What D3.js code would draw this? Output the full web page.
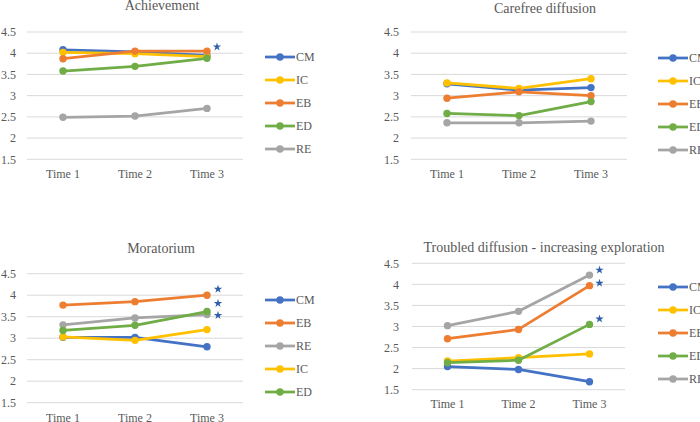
<!DOCTYPE html>
<html>
<head>
<meta charset="utf-8">
<script src="https://cdn.jsdelivr.net/npm/d3@7"></script>
<style>
  html, body { margin: 0; padding: 0; background: #fff; }
  svg { display: block; }
  svg text { font-family: 'Liberation Serif', 'DejaVu Serif', serif; }
</style>
</head>
<body>
<div id="chart"></div>
<script>
// category + tick labels
const times = ['Time 1', 'Time 2', 'Time 3'];
const yTicks = [1.5, 2, 2.5, 3, 3.5, 4, 4.5];

const colors = { CM: '#4472C4', IC: '#FFC000', EB: '#ED7D31', ED: '#70AD47', RE: '#A5A5A5' };

// Achievement
const achievementSeries = ['CM', 'IC', 'EB', 'ED', 'RE'];
const achievementValues = [
  [4.08, 4.03, 3.95],
  [4.02, 3.99, 3.92],
  [3.87, 4.05, 4.05],
  [3.58, 3.69, 3.88],
  [2.49, 2.52, 2.70]
];
const achievementStars = [4.15];

// Carefree diffusion
const carefreeSeries = ['CM', 'IC', 'EB', 'ED', 'RE'];
const carefreeValues = [
  [3.28, 3.13, 3.19],
  [3.30, 3.17, 3.40],
  [2.94, 3.09, 3.00],
  [2.58, 2.53, 2.86],
  [2.36, 2.36, 2.40]
];
const carefreeStars = [];

// Moratorium
const moratoriumSeries = ['CM', 'EB', 'RE', 'IC', 'ED'];
const moratoriumValues = [
  [3.02, 3.02, 2.80],
  [3.77, 3.85, 4.00],
  [3.31, 3.47, 3.55],
  [3.03, 2.95, 3.20],
  [3.18, 3.30, 3.62]
];
const moratoriumStars = [4.14, 3.81, 3.53];

// Troubled diffusion - increasing exploration
const troubledSeries = ['CM', 'IC', 'EB', 'ED', 'RE'];
const troubledValues = [
  [2.05, 1.98, 1.69],
  [2.18, 2.26, 2.35],
  [2.71, 2.93, 3.97],
  [2.14, 2.20, 3.05],
  [3.02, 3.36, 4.22]
];
const troubledStars = [4.34, 4.03, 3.18];

// layout per panel (pixel boxes)
const panels = [
  { title: 'Achievement', series: achievementSeries, values: achievementValues, stars: achievementStars,
    x0: 27, x1: 243, yTop: 32, yBot: 159.3, titleX: 162, titleY: 10, timeY: 178, tickX: 16,
    legX: 265, legY: 57, starDx: 10 },
  { title: 'Carefree diffusion', series: carefreeSeries, values: carefreeValues, stars: carefreeStars,
    x0: 411, x1: 627, yTop: 32, yBot: 159.3, titleX: 545, titleY: 12.7, timeY: 178, tickX: 399,
    legX: 658, legY: 58, starDx: 10 },
  { title: 'Moratorium', series: moratoriumSeries, values: moratoriumValues, stars: moratoriumStars,
    x0: 27, x1: 243, yTop: 273.7, yBot: 402.7, titleX: 161, titleY: 252.5, timeY: 421.5, tickX: 16,
    legX: 265, legY: 300, starDx: 11 },
  { title: 'Troubled diffusion - increasing exploration', series: troubledSeries, values: troubledValues, stars: troubledStars,
    x0: 412, x1: 625, yTop: 263.3, yBot: 389.7, titleX: 544, titleY: 251.5, timeY: 408, tickX: 399,
    legX: 658, legY: 287, starDx: 10 }
];

const W = 700, H = 422;
const textColor = '#595959';
const FONT = "'Liberation Serif', 'DejaVu Serif', serif";

const svg = d3.select('#chart').append('svg')
  .attr('width', W)
  .attr('height', H)
  .attr('font-family', FONT);

panels.forEach(p => {
  const g = svg.append('g');

  const x = d3.scalePoint().domain(times).range([p.x0, p.x1]).padding(0.5);
  const y = d3.scaleLinear().domain([1.5, 4.5]).range([p.yBot, p.yTop]);

  // gridlines
  g.selectAll('line.grid')
    .data(yTicks)
    .enter().append('line')
    .attr('class', 'grid')
    .attr('x1', p.x0).attr('x2', p.x1)
    .attr('y1', d => y(d)).attr('y2', d => y(d))
    .attr('stroke', '#D9D9D9')
    .attr('stroke-width', 1);

  // y tick labels
  g.selectAll('text.ytick')
    .data(yTicks)
    .enter().append('text')
    .attr('class', 'ytick')
    .attr('x', p.tickX)
    .attr('y', d => y(d))
    .attr('dy', '0.35em')
    .attr('text-anchor', 'end')
    .attr('font-family', FONT)
    .attr('font-size', 12)
    .attr('fill', textColor)
    .text(d => d);

  // x labels
  g.selectAll('text.xtick')
    .data(times)
    .enter().append('text')
    .attr('class', 'xtick')
    .attr('x', d => x(d))
    .attr('y', p.timeY)
    .attr('text-anchor', 'middle')
    .attr('font-family', FONT)
    .attr('font-size', 12)
    .attr('fill', textColor)
    .text(d => d);

  // title
  g.append('text')
    .attr('x', p.titleX)
    .attr('y', p.titleY)
    .attr('text-anchor', 'middle')
    .attr('font-family', FONT)
    .attr('font-size', 14)
    .attr('fill', textColor)
    .text(p.title);

  const line = d3.line()
    .x((d, i) => x(times[i]))
    .y(d => y(d));

  // series lines + dots
  p.series.forEach((name, si) => {
    const vals = p.values[si];
    const c = colors[name];
    g.append('path')
      .datum(vals)
      .attr('d', line)
      .attr('fill', 'none')
      .attr('stroke', c)
      .attr('stroke-width', 2.75)
      .attr('stroke-linejoin', 'round');
    g.selectAll(null)
      .data(vals)
      .enter().append('circle')
      .attr('cx', (d, i) => x(times[i]))
      .attr('cy', d => y(d))
      .attr('r', 3.7)
      .attr('fill', c);
  });

  // significance stars
  const star = d3.symbol().type(d3.symbolStar).size(22);
  g.selectAll('path.star')
    .data(p.stars)
    .enter().append('path')
    .attr('class', 'star')
    .attr('d', star)
    .attr('transform', d => `translate(${x('Time 3') + p.starDx},${y(d)})`)
    .attr('fill', '#2E5FA8');

  // legend
  const leg = g.selectAll('g.leg')
    .data(p.series)
    .enter().append('g')
    .attr('class', 'leg')
    .attr('transform', (d, i) => `translate(${p.legX},${p.legY + i * 23})`);
  leg.append('line')
    .attr('x1', 0).attr('x2', 30)
    .attr('stroke', d => colors[d])
    .attr('stroke-width', 2.75);
  leg.append('circle')
    .attr('cx', 15).attr('r', 3.7)
    .attr('fill', d => colors[d]);
  leg.append('text')
    .attr('x', 31)
    .attr('dy', '0.35em')
    .attr('font-family', FONT)
    .attr('font-size', 12)
    .attr('fill', textColor)
    .text(d => d);
});
</script>
</body>
</html>
